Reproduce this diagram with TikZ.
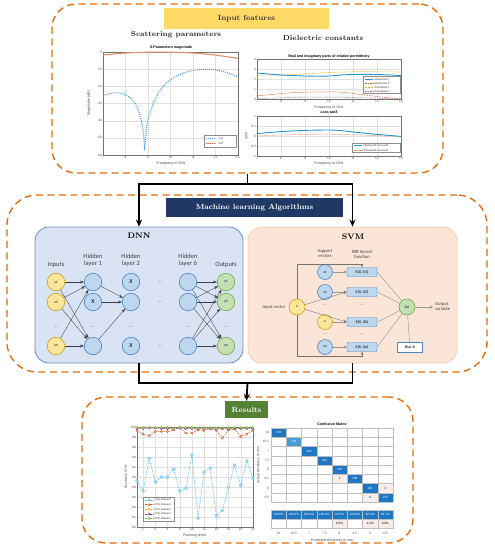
\documentclass[tikz,border=0pt]{standalone}
\usepackage{fontspec}
\newfontfamily\calib{Carlito}
\newfontfamily\plotf{Liberation Sans}
\usetikzlibrary{arrows.meta,positioning}

\begin{document}
\begin{tikzpicture}[x=1pt,y=-1pt,
    dashbox/.style={draw=col_dash,line width=1.4pt,dash pattern=on 7pt off 4.5pt,rounded corners=24pt,inner sep=0pt},
    headbox/.style={inner sep=0pt,font=\fontsize{7.5}{8}\selectfont\bfseries},
    subhead/.style={font=\fontsize{7.2}{8}\selectfont\bfseries,text=black!85},
    algbox/.style={line width=0.8pt,rounded corners=14pt,minimum width=208pt,minimum height=136pt,inner sep=0pt},
    neuron/.style={circle,draw=col_nb,fill=col_nf,line width=0.6pt,minimum size=17.5pt,inner sep=0pt,font=\fontsize{3.6}{4}\calib\itshape},
    inneuron/.style={neuron,draw=col_yb,fill=col_yf},
    outneuron/.style={neuron,draw=col_gb,fill=col_gf},
    dnnlab/.style={font=\fontsize{6.5}{7}\calib,align=center,text=black!75},
    dots/.style={font=\fontsize{5}{5}\calib,text=black!70},
    wire/.style={draw=black!75,line width=0.35pt,-{Stealth[length=4pt,width=3pt]}},
    svlab/.style={font=\fontsize{4.6}{5}\calib,text=black!75,inner sep=1pt},
    kern/.style={draw=col_nb,fill=col_nf,rounded corners=1pt,line width=0.4pt,minimum width=30pt,minimum height=9pt,inner sep=0pt,font=\fontsize{4}{4.2}\calib},
    suparrow/.style={draw=black!40,line width=0.9pt,-{Stealth[length=3pt,width=3.5pt]}},
    thinarrow/.style={draw=black!55,line width=0.35pt,-{Stealth[length=3pt,width=2.5pt]}},
    kline/.style={draw=black!45,line width=0.35pt},
    flow/.style={line width=1.8pt,-{Stealth[length=7pt,width=6pt]}},
    ptitle/.style={font=\fontsize{3.6}{4}\plotf\bfseries,inner sep=0.5pt},
    tick/.style={font=\fontsize{3.2}{3.5}\plotf,text=black!70,inner sep=1pt},
    axlab/.style={font=\fontsize{3.6}{4}\plotf,text=black!75,inner sep=0.5pt},
    legtxt/.style={font=\fontsize{2.8}{3}\plotf,text=black!75,inner sep=0.5pt,anchor=west},
    gridl/.style={draw=black!12,line width=0.25pt},
    frame/.style={draw=black!55,line width=0.35pt},
    legframe/.style={draw=black!45,fill=white,line width=0.3pt},
    ser/.style={draw=#1,line width=0.5pt,dash pattern=on 1.6pt off 1pt},
    mk/.style={circle,solid,draw=#1,fill=#1!35,line width=0.35pt,minimum size=2.2pt,inner sep=0pt},
    cmtxt/.style={font=\fontsize{3.1}{3.3}\plotf,text=white,inner sep=0pt},
    cmgrid/.style={draw=black!25,line width=0.3pt}]
    \definecolor{col_dash}{HTML}{E46C0A}
    \definecolor{col_head1}{HTML}{FFD966}
    \definecolor{col_head2}{HTML}{1F3864}
    \definecolor{col_head3}{HTML}{548235}
    \definecolor{col_dnnf}{HTML}{DAE3F3}
    \definecolor{col_dnnb}{HTML}{6C8EBF}
    \definecolor{col_svmf}{HTML}{FBE5D6}
    \definecolor{col_svmb}{HTML}{F8CBAD}
    \definecolor{col_nf}{HTML}{BDD7EE}
    \definecolor{col_nb}{HTML}{4A86C5}
    \definecolor{col_yf}{HTML}{FFE699}
    \definecolor{col_yb}{HTML}{C9A227}
    \definecolor{col_gf}{HTML}{C5E0B4}
    \definecolor{col_gb}{HTML}{70AD47}
    \definecolor{col_m1}{HTML}{0072BD}
    \definecolor{col_m2}{HTML}{D95319}
    \definecolor{col_m3}{HTML}{EDB120}
    \definecolor{col_m4}{HTML}{7E2F8E}
    \definecolor{col_m5}{HTML}{77AC30}
    \definecolor{col_m6}{HTML}{4DBEEE}
    \definecolor{col_cm}{HTML}{1F77C4}
    \definecolor{col_cm2}{HTML}{4A9AD8}
    \definecolor{col_cmp}{HTML}{F8EDE8}
    \useasboundingbox (0,0) rectangle (495,550);
    % the three stages
    \node[dashbox,minimum width=391pt,minimum height=169pt] (inbox) at (247.5,88.5) {};
    \node[dashbox,minimum width=480pt,minimum height=177pt,rounded corners=30pt] (mlbox) at (247,283.5) {};
    \node[dashbox,minimum width=331pt,minimum height=146pt] (resbox) at (247.5,470) {};
    \node[headbox,fill=col_head1,text=black!80,minimum width=165pt,minimum height=21pt] (inhead) at (246.5,18.5) {Input features};
    \node[headbox,fill=col_head2,text=white,minimum width=177pt,minimum height=19pt] (mlhead) at (254.5,207.5) {Machine learning Algorithms};
    \node[headbox,fill=col_head3,text=white,minimum width=43pt,minimum height=17pt] (reshead) at (246.5,409.5) {Results};
    \node[subhead] (sphead) at (176,35) {Scattering parameters};
    \node[subhead] (dchead) at (323,38) {Dielectric constants};
    % S-parameters plot
    \node[ptitle] (sptitle) at (171,48) {S-Parameters magnitude};
    \begin{scope}[shift={(-54.5,52)},xscale=22.5,yscale=-1.717]
        \foreach \f in {8,...,12} \draw[gridl] (\f,0) -- (\f,-60);
        \foreach \m in {-10,-20,...,-50} \draw[gridl] (7,\m) -- (13,\m);
        \draw[frame] (7,0) rectangle (13,-60);
        \foreach \f [count=\i] in {7,...,13} \node[tick,below] (spx\i) at (\f,-60) {\f};
        \foreach \m [count=\i] in {0,-10,...,-60} \node[tick,left] (spy\i) at (7,\m) {\m};
        \draw[draw=col_m2!65,line width=1.1pt] plot[smooth] coordinates {(7,-1.7) (8,-0.6) (9,-0.1) (10,-0.1) (11,-0.6) (12,-1.8) (13,-3.7)};
        \draw[draw=col_m6!80!blue,line width=1.1pt,dash pattern=on 0.9pt off 1.1pt] plot[smooth] coordinates {(7,-25.5) (7.3,-24.2) (7.6,-23.7) (7.9,-24.3) (8.2,-26.5) (8.45,-30.5) (8.65,-37) (8.78,-45) (8.85,-57)};
        \draw[draw=col_m6!80!blue,line width=1.1pt,dash pattern=on 0.9pt off 1.1pt] plot[smooth] coordinates {(8.85,-57) (8.93,-45) (9.05,-37) (9.25,-29.5) (9.5,-23) (9.8,-18.3) (10.2,-14.5) (10.7,-11.7) (11.2,-10.4) (11.6,-10.1) (12,-10.4) (12.5,-12) (13,-14.5)};
    \end{scope}
    \node[axlab] (spxl) at (171,164) {Frequency in GHz};
    \node[axlab,rotate=90] (spyl) at (89,103) {Magnitude (dB)};
    \draw[legframe] (204,135) rectangle (236,147);
    \draw[draw=col_m6!80!blue,line width=1.1pt,dash pattern=on 0.9pt off 1.1pt] (206,138.5) -- (216,138.5);
    \draw[draw=col_m2!65,line width=1.1pt] (206,143.5) -- (216,143.5);
    \node[legtxt] (spl1) at (218,138.5) {S11};
    \node[legtxt] (spl2) at (218,143.5) {S21};
    % permittivity plot
    \node[ptitle] (eptitle) at (329,56.5) {Real and imaginary parts of relative permittivity};
    \begin{scope}[shift={(89,99)},xscale=24,yscale=-10]
        \foreach \f in {8,...,12} \draw[gridl] (\f,0) -- (\f,4);
        \foreach \m in {1,2,3} \draw[gridl] (7,\m) -- (13,\m);
        \draw[frame] (7,0) rectangle (13,4);
        \foreach \f [count=\i] in {7,...,13} \node[tick,below] (epx\i) at (\f,0) {\f};
        \foreach \m [count=\i] in {0,...,4} \node[tick,left] (epy\i) at (7,\m) {\m};
        \draw[draw=col_m3,line width=0.6pt,dash pattern=on 2pt off 1.2pt] plot[smooth] coordinates {(7,2.4) (8,2.4) (9,2.5) (10,2.65) (11,2.72) (12,2.72) (13,2.7)};
        \draw[draw=col_m1!55!col_m6,line width=0.9pt] plot[smooth] coordinates {(7,2.6) (8,2.4) (9,2.3) (9.5,2.28) (10,2.3) (10.5,2.4) (11,2.45) (12,2.45) (13,2.35)};
        \draw[draw=col_m2,line width=0.5pt,dash pattern=on 1.5pt off 1pt] plot[smooth] coordinates {(7,0.3) (8,0.55) (9,0.68) (10,0.72) (10.5,0.68) (11,0.55) (12,0.25) (13,0)};
        \draw[draw=col_m4!70,line width=0.5pt,dash pattern=on 1.5pt off 1pt] plot[smooth] coordinates {(7,0.05) (8,0.12) (9,0.18) (10,0.2) (11,0.15) (12,0.08) (13,0)};
    \end{scope}
    \node[axlab] (epxl) at (329,108) {Frequency in GHz};
    \draw[legframe] (363,76) rectangle (400,93);
    \draw[draw=col_m1!55!col_m6,line width=0.9pt] (365,79.5) -- (373,79.5);
    \draw[draw=col_m2,line width=0.5pt,dash pattern=on 1.5pt off 1pt] (365,83.5) -- (373,83.5);
    \draw[draw=col_m3,line width=0.6pt,dash pattern=on 2pt off 1.2pt] (365,87.3) -- (373,87.3);
    \draw[draw=col_m4!70,line width=0.5pt,dash pattern=on 1.5pt off 1pt] (365,91) -- (373,91);
    \node[legtxt] (epl1) at (374,79.5) {Measured ε′};
    \node[legtxt] (epl2) at (374,83.5) {Measured ε″};
    \node[legtxt] (epl3) at (374,87.3) {Simulated ε′};
    \node[legtxt] (epl4) at (374,91) {Simulated ε″};
    % loss tangent plot
    \node[ptitle] (lttitle) at (329,112.5) {Loss tanδ};
    \begin{scope}[shift={(89,136)},xscale=24,yscale=-20]
        \foreach \f in {8,...,12} \draw[gridl] (\f,-1) -- (\f,1);
        \foreach \m in {-0.5,0,0.5} \draw[gridl] (7,\m) -- (13,\m);
        \draw[frame] (7,-1) rectangle (13,1);
        \foreach \f [count=\i] in {7,...,13} \node[tick,below] (ltx\i) at (\f,-1) {\f};
        \foreach \m [count=\i] in {-1,-0.5,0,0.5,1} \node[tick,left] (lty\i) at (7,\m) {\m};
        \draw[draw=col_m2!70,line width=0.5pt,dash pattern=on 1.5pt off 1pt] plot[smooth] coordinates {(7,0) (8,0.05) (9,0.08) (10,0.09) (11,0.06) (12,0.02) (13,-0.02)};
        \draw[draw=col_m1!55!col_m6,line width=0.9pt] plot[smooth] coordinates {(7,0.12) (8,0.22) (9,0.28) (10,0.3) (10.5,0.27) (11,0.2) (12,0.08) (13,-0.02)};
    \end{scope}
    \node[axlab] (ltxl) at (329,164) {Frequency in GHz};
    \node[axlab,rotate=90] (ltyl) at (246,136) {tanδ};
    \draw[legframe] (352,143) rectangle (400,152.5);
    \draw[draw=col_m1!55!col_m6,line width=0.9pt] (354,145.5) -- (362,145.5);
    \draw[draw=col_m2!70,line width=0.5pt,dash pattern=on 1.5pt off 1pt] (354,150) -- (362,150);
    \node[legtxt] (ltl1) at (363,145.5) {Measured loss tanδ};
    \node[legtxt] (ltl2) at (363,150) {Simulated loss tanδ};
    % DNN
    \node[algbox,draw=col_dnnb,fill=col_dnnf] (dnn) at (139,295) {};
    \node[font=\fontsize{8}{8}\selectfont\bfseries] (dnntitle) at (139,236) {DNN};
    \node[dnnlab] (lin) at (56,265) {Inputs};
    \node[dnnlab] (lhA) at (93,260.5) {Hidden\\layer 1};
    \node[dnnlab] (lhB) at (131,260.5) {Hidden\\layer 2};
    \node[dnnlab] (lhF) at (188,260.5) {Hidden\\layer 6};
    \node[dnnlab] (lout) at (226,265) {Outputs};
    \foreach \r/\y/\t in {1/282/1,2/302/2,4/346/n} {
        \node[inneuron] (in\r) at (56,\y) {x\t};
        \node[neuron] (hA\r) at (93,\y) {};
        \node[neuron] (hB\r) at (131,\y) {};
        \node[neuron] (hF\r) at (188,\y) {};
        \node[outneuron] (out\r) at (226,\y) {y\t};
        \node[dots] (gap\r) at (160,\y) {...};
    }
    \foreach \x [count=\i] in {56,93,131,188,226} \node[dots] (row\i) at (\x,327) {...};
    \node[font=\fontsize{6}{6}\calib] (xA2) at (hA2) {X};
    \node[font=\fontsize{6}{6}\calib] (xB1) at (hB1) {X};
    \node[font=\fontsize{6}{6}\calib] (xB4) at (hB4) {X};
    \foreach \s in {1,2,4} \foreach \t in {1,4} \draw[wire] (in\s) -- (hA\t);
    \foreach \s in {1,2,4} \draw[wire] (hA\s) -- (hB2);
    \foreach \s in {1,2,4} \foreach \t in {1,2,4} \draw[wire] (hF\s) -- (out\t);
    % SVM
    \node[algbox,draw=col_svmb,fill=col_svmf,minimum width=209pt] (svm) at (352.5,295) {};
    \node[font=\fontsize{8}{8}\selectfont\bfseries] (svmtitle) at (353,237) {SVM};
    \node[svlab,align=center] (svhead) at (325,254) {Support\\vectors};
    \node[svlab,align=center] (kernhead) at (362,254) {RBF kernel\\function};
    \node[inneuron,minimum size=16pt] (vx) at (297,307) {x};
    \node[svlab,left=2pt of vx] (vxlab) {Input vector};
    \node[neuron,minimum size=15pt] (sv1) at (325,272) {x1};
    \node[neuron,minimum size=15pt] (sv2) at (325,292) {x2};
    \node[inneuron,minimum size=15pt] (sv3) at (325,322) {x};
    \node[neuron,minimum size=15pt] (sv4) at (325,347) {xn};
    \node[kern] (k1) at (362,272) {K(X, X1)};
    \node[kern] (k2) at (362,292) {K(X, X2)};
    \node[kern] (k3) at (362,322) {K(X, Xk)};
    \node[kern] (k4) at (362,347) {K(X, Xn)};
    \foreach \x/\y [count=\i] in {325/305,362/305,325/334,362/334} \node[dots] (sgap\i) at (\x,\y) {...};
    \node[outneuron,minimum size=16pt] (fx) at (407,307) {f(x)};
    \node[draw=col_nb,fill=white,line width=0.4pt,minimum width=25pt,minimum height=10pt,inner sep=0pt,font=\fontsize{4.2}{4.5}\calib] (bias) at (410,347) {Bias b};
    \coordinate (outend) at (433,307);
    \node[svlab,align=left,right=1pt of outend] (outlab) {Output\\variable};
    \foreach \r in {1,...,4} {
        \draw[suparrow] (sv\r) -- (k\r);
        \draw[kline] (k\r.east) -- (fx);
    }
    \draw[kline] (fx) -- (bias);
    \draw[suparrow] (fx) -- (outend);
    \draw[thinarrow] (vx) -- (k2.west);
    \draw[thinarrow] (vx) -- (k3.west);
    \coordinate (topturn) at (297,264);
    \coordinate (botturn) at (297,356);
    \draw[thinarrow] (vx.north) -- (topturn) -| (k1.north);
    \draw[thinarrow] (vx.south) -- (botturn) -| (k4.south);
    % flow between the stages
    \coordinate (split) at (247.5,184);
    \coordinate (merge) at (247.5,383);
    \draw[flow] (inbox.south) -- (split) -| (dnn.north);
    \draw[flow] (split) -| (svm.north);
    \draw[line width=1.8pt] (dnn.south) |- (merge);
    \draw[line width=1.8pt] (svm.south) |- (merge);
    \draw[flow] (merge) -- (reshead.north);
    % accuracy plot
    \begin{scope}[shift={(130.9,927)},xscale=6.1,yscale=-5]
        \foreach \f in {2,4,...,18} \draw[gridl] (\f,80) -- (\f,100);
        \foreach \m in {82,84,...,98} \draw[gridl] (1,\m) -- (20,\m);
        \draw[frame] (1,80) rectangle (20,100);
        \foreach \f [count=\i] in {2,4,...,20} \node[tick,below] (acx\i) at (\f,80) {\f};
        \foreach \m [count=\i] in {80,82,...,100} \node[tick,left] (acy\i) at (1,\m) {\m};
        \draw[ser=col_m2] (1,99.3) node[mk=col_m2] (b1) {} foreach \v [count=\i from 2] in {98.6,98.3,99.1,99.1,99.1,99.4,99.9,98.8,98.8,99.4,99.3,99.7,99.3,97.8,99.4,99.6,98.1,98.6,99.3} {-- (\i,\v) node[mk=col_m2] (b\i) {}};
        \draw[ser=col_m3] (1,99.8) node[mk=col_m3] (c1) {} foreach \v [count=\i from 2] in {99.9,99.8,99.9,99.8,99.8,99.7,99.9,99.8,99.8,99.7,99.6,99.6,99.7,99.6,99.7,99.8,99.8,99.8,99.8} {-- (\i,\v) node[mk=col_m3] (c\i) {}};
        \draw[ser=col_m4] (1,99.7) node[mk=col_m4] (d1) {} foreach \v [count=\i from 2] in {99.7,99.8,99.8,99.7,99.7,99.6,99.8,99.7,99.7,99.6,99.7,99.7,99.6,99.7,99.6,99.7,99.7,99.7,99.7} {-- (\i,\v) node[mk=col_m4] (d\i) {}};
        \draw[ser=col_m5] (1,99.9) node[mk=col_m5] (e1) {} foreach \v [count=\i from 2] in {99.9,99.9,99.9,99.9,99.9,99.7,100,99.9,99.9,99.8,99.9,99.9,99.8,99.9,99.9,99.9,99.9,99.9,99.9} {-- (\i,\v) node[mk=col_m5] (e\i) {}};
        \draw[ser=col_m6] (1,89.3) node[mk=col_m6,minimum size=3pt] (a1) {} foreach \v [count=\i from 2] in {87.2,93.7,89,90,90,91.6,87.2,87.7,94.4,81.8,91,91.8,82.3,83.3,88,92.4,88.3,93.2,89.8} {-- (\i,\v) node[mk=col_m6,minimum size=3pt] (a\i) {}};
    \end{scope}
    \node[axlab] (acxl) at (195,536) {Running times};
    \node[axlab,rotate=90] (acyl) at (126,477) {Accuracy in \%};
    \draw[legframe] (143,497) rectangle (174,521);
    \foreach \p/\c/\y [count=\i] in {20/col_m6/500,30/col_m2/504.7,50/col_m3/509.3,60/col_m4/514,80/col_m5/518.5} {
        \draw[ser=\c] (145,\y) -- (153,\y);
        \node[mk=\c] (lm\i) at (149,\y) {};
        \node[legtxt] (lt\i) at (154,\y) {\p\% Dataset};
    }
    % confusion matrix
    \begin{scope}[shift={(271,428)},x=15.25pt,y=-9.25pt]
        \node[ptitle] (cmtitle) at (4,-0.45) {Confusion Matrix};
        \foreach \c [count=\i from 0] in {col_cm,col_cm2,col_cm,col_cm,col_cm,col_cm,col_cm,col_cm} \fill[\c] (\i,\i) rectangle ++(1,1);
        \fill[col_cmp] (4,5) rectangle (5,6);
        \fill[col_cmp] (7,6) rectangle (8,7);
        \fill[col_cmp] (6,7) rectangle (7,8);
        \foreach \k in {0,...,8} {
            \draw[cmgrid] (\k,0) -- (\k,8);
            \draw[cmgrid] (0,\k) -- (8,\k);
        }
        \foreach \v [count=\i from 0] in {163,136,202,193,195,208,181,212} \node[cmtxt] (cmd\i) at (\i+0.5,\i+0.5) {\v};
        \node[cmtxt,text=black] (cmo1) at (4.5,5.5) {1};
        \node[cmtxt,text=black] (cmo2) at (7.5,6.5) {2};
        \node[cmtxt,text=black] (cmo3) at (6.5,7.5) {2};
        \fill[col_cm] (0,8.9) rectangle (8,9.8);
        \foreach \x in {4,6,7} \fill[col_cmp] (\x,9.8) rectangle (\x+1,10.8);
        \foreach \x in {0,...,8} \draw[cmgrid] (\x,8.9) -- (\x,10.8);
        \draw[cmgrid] (0,8.9) rectangle (8,10.8);
        \draw[cmgrid] (0,9.8) -- (8,9.8);
        \foreach \v [count=\i from 0] in {100.0\%,100.0\%,100.0\%,100.0\%,99.5\%,100.0\%,98.9\%,99.1\%} \node[cmtxt] (cms\i) at (\i+0.5,9.35) {\v};
        \foreach \v/\x [count=\i] in {0.5\%/4,1.1\%/6,0.9\%/7} \node[cmtxt,text=black] (cmf\i) at (\x+0.5,10.3) {\v};
        \foreach \t [count=\i from 0] in {10,10.5,7,7.5,8,8.5,9,9.5} {
            \node[tick] (cmc\i) at (\i+0.5,11.4) {\t};
            \node[tick,anchor=east] (cmr\i) at (-0.05,\i+0.5) {\t};
        }
        \node[axlab] (cmxl) at (4,12.1) {Predicted thickness in mm};
        \node[axlab,rotate=90] (cmyl) at (-0.85,4) {Actual thickness in mm};
    \end{scope}
\end{tikzpicture}
\end{document}
